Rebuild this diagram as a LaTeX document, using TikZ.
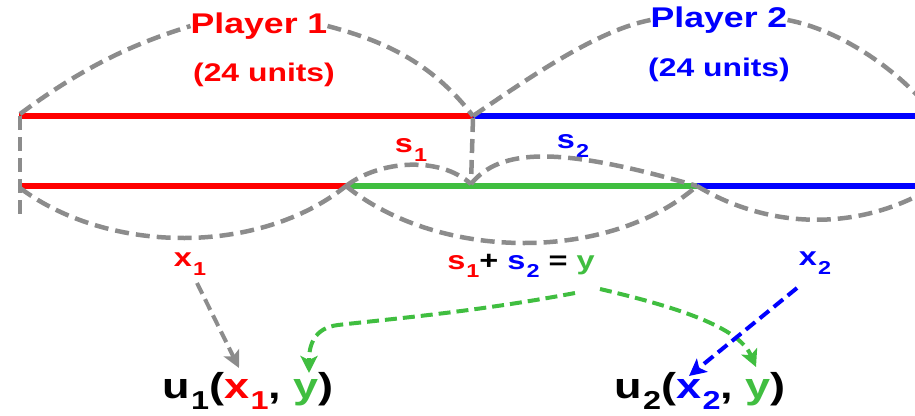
\documentclass[tikz,border=0pt]{standalone}
\usepackage{fontspec}
\setmainfont{Liberation Sans}[FakeStretch=1.25]
\usetikzlibrary{arrows.meta}
\definecolor{pred}{RGB}{255,0,0}
\definecolor{pblue}{RGB}{0,0,255}
\definecolor{pgreen}{RGB}{64,190,64}
\definecolor{pgray}{RGB}{140,140,140}
\newcommand\sbx[1]{\kern0.04em\raisebox{-0.32em}{\scalebox{0.72}{#1}}}
\begin{document}
\begin{tikzpicture}[x=1pt,y=-1pt,
  bar/.style={line width=6pt},
  guide/.style={pgray,line width=4.5pt,dash pattern=on 14pt off 7pt},
  lab/.style={font=\bfseries\fontsize{26}{28}\selectfont,inner sep=0pt},
  playerlab/.style={font=\bfseries\fontsize{28.5}{30}\selectfont,inner sep=0pt},
  unitlab/.style={font=\bfseries\fontsize{25.5}{28}\selectfont,inner sep=0pt},
  util/.style={font=\bfseries\fontsize{36}{40}\selectfont,inner sep=0pt},
  arr/.style={line width=4pt,dash pattern=on 12pt off 6pt,-{Stealth[length=17pt,width=17pt,inset=4pt]}}]
\useasboundingbox (0,0) rectangle (915,415);
% end points
\coordinate (tl) at (19,116);
\coordinate (tm) at (473,116);
\coordinate (tr) at (930,116);
\coordinate (bl) at (19,186);
\coordinate (bg1) at (346,186);
\coordinate (bv) at (471,184);
\coordinate (bg2) at (697,186);
\coordinate (br) at (930,186);
\coordinate (vl) at (20,216);
% colour bars
\draw[bar,pred] (tl) -- (tm);
\draw[bar,pblue] (tm) -- (tr);
\draw[bar,pred] (bl) -- (bg1);
\draw[bar,pgreen] (bg1) -- (bg2);
\draw[bar,pblue] (bg2) -- (br);
% labels
\node[playerlab,text=pred] (p1) at (259,26) {Player 1};
\node[unitlab,text=pred] (p1u) at (264,75) {(24 units)};
\node[playerlab,text=pblue] (p2) at (719,20) {Player 2};
\node[unitlab,text=pblue] (p2u) at (719,70) {(24 units)};
\node[lab,text=pred] (s1) at (411,150) {s\sbx{1}};
\node[lab,text=pblue] (s2) at (573,146) {s\sbx{2}};
\node[lab,text=pred] (x1) at (190,264) {x\sbx{1}};
\node[lab] (sum) at (521,266) {\textcolor{pred}{s\sbx{1}}+ \textcolor{pblue}{s\sbx{2}} = \textcolor{pgreen}{y}};
\node[lab,text=pblue] (x2) at (815,263) {x\sbx{2}};
\node[util] (u1) at (248,391) {u\sbx{1}(\textcolor{pred}{x\sbx{1}}, \textcolor{pgreen}{y})};
\node[util] (u2) at (700,391) {u\sbx{2}(\textcolor{pblue}{x\sbx{2}}, \textcolor{pgreen}{y})};
% guides
\draw[guide] (20,116) -- (vl);
\draw[guide] (473,118) -- (bv);
\draw[guide] (20,114) .. controls (90,62) and (140,42) .. (p1.west);
\draw[guide] (p1.east) .. controls (380,40) and (430,60) .. (tm);
\draw[guide] (tm) .. controls (540,70) and (600,30) .. (p2.west);
\draw[guide] (p2.east) .. controls (840,30) and (900,70) .. (935,116);
\draw[guide] (20,188) .. controls (110,255) and (260,255) .. (bg1);
\draw[guide] (bg1) .. controls (440,262) and (610,262) .. (bg2);
\draw[guide] (bg2) .. controls (770,230) and (860,232) .. (935,186);
\draw[guide] (bg1) .. controls (380,160) and (440,156) .. (bv);
\draw[guide] (bv) .. controls (500,148) and (560,146) .. (bg2);
% arrows
\draw[arr,pgray] (197,283) -- (239,368);
\draw[arr,pgreen] (575,293) .. controls (480,311) and (400,318) .. (338,325)
   .. controls (314,328) and (309,345) .. (309,373);
\draw[arr,pgreen] (600,289) .. controls (690,310) and (740,330) .. (756,367);
\draw[arr,pblue] (797,288) -- (689,376);
\end{tikzpicture}
\end{document}
